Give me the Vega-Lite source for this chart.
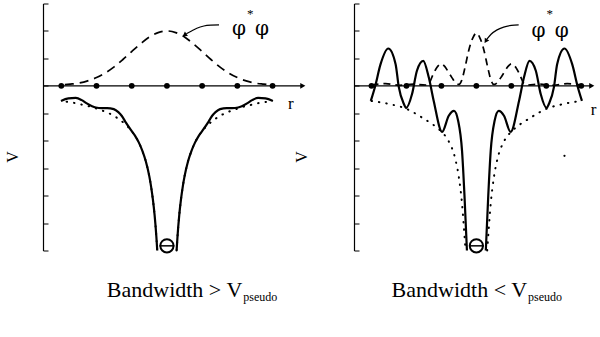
{
  "$schema": "https://vega.github.io/schema/vega-lite/v6.json",
  "background": "white",
  "padding": {"left": 5, "top": 2.5, "right": 0, "bottom": 5},
  "bounds": "flush",
  "spacing": 48,
  "config": {"view": {"stroke": null}},
  "datasets": {
    "curves": [
      {"p":"L","s":"solid","b":"a","x":-3.01,"y":-0.55},{"p":"L","s":"solid","b":"a","x":-2.8,"y":-0.46},{"p":"L","s":"solid","b":"a","x":-2.59,"y":-0.44},{"p":"L","s":"solid","b":"a","x":-2.42,"y":-0.52},{"p":"L","s":"solid","b":"a","x":-2.3,"y":-0.62},{"p":"L","s":"solid","b":"a","x":-2.02,"y":-0.79},{"p":"L","s":"solid","b":"a","x":-1.85,"y":-0.81},{"p":"L","s":"solid","b":"a","x":-1.7,"y":-0.81},{"p":"L","s":"solid","b":"a","x":-1.51,"y":-0.85},{"p":"L","s":"solid","b":"a","x":-1.38,"y":-0.96},{"p":"L","s":"solid","b":"a","x":-1.28,"y":-1.1},{"p":"L","s":"solid","b":"a","x":-1.16,"y":-1.35},{"p":"L","s":"solid","b":"a","x":-1.0,"y":-1.65},{"p":"L","s":"solid","b":"a","x":-0.9,"y":-1.83},{"p":"L","s":"solid","b":"a","x":-0.8,"y":-2.06},{"p":"L","s":"solid","b":"a","x":-0.7,"y":-2.36},{"p":"L","s":"solid","b":"a","x":-0.6,"y":-2.75},{"p":"L","s":"solid","b":"a","x":-0.5,"y":-3.3},{"p":"L","s":"solid","b":"a","x":-0.45,"y":-3.67},{"p":"L","s":"solid","b":"a","x":-0.4,"y":-4.13},{"p":"L","s":"solid","b":"a","x":-0.35,"y":-4.71},{"p":"L","s":"solid","b":"a","x":-0.3,"y":-5.5},{"p":"L","s":"solid","b":"a","x":-0.275,"y":-6.0},
      {"p":"L","s":"solid","b":"b","x":3.01,"y":-0.55},{"p":"L","s":"solid","b":"b","x":2.8,"y":-0.46},{"p":"L","s":"solid","b":"b","x":2.59,"y":-0.44},{"p":"L","s":"solid","b":"b","x":2.42,"y":-0.52},{"p":"L","s":"solid","b":"b","x":2.3,"y":-0.62},{"p":"L","s":"solid","b":"b","x":2.02,"y":-0.79},{"p":"L","s":"solid","b":"b","x":1.85,"y":-0.81},{"p":"L","s":"solid","b":"b","x":1.7,"y":-0.81},{"p":"L","s":"solid","b":"b","x":1.51,"y":-0.85},{"p":"L","s":"solid","b":"b","x":1.38,"y":-0.96},{"p":"L","s":"solid","b":"b","x":1.28,"y":-1.1},{"p":"L","s":"solid","b":"b","x":1.16,"y":-1.35},{"p":"L","s":"solid","b":"b","x":1.0,"y":-1.65},{"p":"L","s":"solid","b":"b","x":0.9,"y":-1.83},{"p":"L","s":"solid","b":"b","x":0.8,"y":-2.06},{"p":"L","s":"solid","b":"b","x":0.7,"y":-2.36},{"p":"L","s":"solid","b":"b","x":0.6,"y":-2.75},{"p":"L","s":"solid","b":"b","x":0.5,"y":-3.3},{"p":"L","s":"solid","b":"b","x":0.45,"y":-3.67},{"p":"L","s":"solid","b":"b","x":0.4,"y":-4.13},{"p":"L","s":"solid","b":"b","x":0.35,"y":-4.71},{"p":"L","s":"solid","b":"b","x":0.3,"y":-5.5},{"p":"L","s":"solid","b":"b","x":0.275,"y":-6.0},
      {"p":"L","s":"dotted","b":"a","x":-2.85,"y":-0.58},{"p":"L","s":"dotted","b":"a","x":-2.6,"y":-0.63},{"p":"L","s":"dotted","b":"a","x":-2.4,"y":-0.69},{"p":"L","s":"dotted","b":"a","x":-2.2,"y":-0.75},{"p":"L","s":"dotted","b":"a","x":-2.0,"y":-0.83},{"p":"L","s":"dotted","b":"a","x":-1.8,"y":-0.92},{"p":"L","s":"dotted","b":"a","x":-1.6,"y":-1.03},{"p":"L","s":"dotted","b":"a","x":-1.4,"y":-1.18},{"p":"L","s":"dotted","b":"a","x":-1.2,"y":-1.38},{"p":"L","s":"dotted","b":"a","x":-1.0,"y":-1.65},{"p":"L","s":"dotted","b":"a","x":-0.9,"y":-1.83},{"p":"L","s":"dotted","b":"a","x":-0.8,"y":-2.06},{"p":"L","s":"dotted","b":"a","x":-0.7,"y":-2.36},{"p":"L","s":"dotted","b":"a","x":-0.6,"y":-2.75},{"p":"L","s":"dotted","b":"a","x":-0.5,"y":-3.3},{"p":"L","s":"dotted","b":"a","x":-0.45,"y":-3.67},{"p":"L","s":"dotted","b":"a","x":-0.4,"y":-4.13},{"p":"L","s":"dotted","b":"a","x":-0.35,"y":-4.71},{"p":"L","s":"dotted","b":"a","x":-0.3,"y":-5.5},{"p":"L","s":"dotted","b":"a","x":-0.275,"y":-6.0},
      {"p":"L","s":"dotted","b":"b","x":2.85,"y":-0.58},{"p":"L","s":"dotted","b":"b","x":2.6,"y":-0.63},{"p":"L","s":"dotted","b":"b","x":2.4,"y":-0.69},{"p":"L","s":"dotted","b":"b","x":2.2,"y":-0.75},{"p":"L","s":"dotted","b":"b","x":2.0,"y":-0.83},{"p":"L","s":"dotted","b":"b","x":1.8,"y":-0.92},{"p":"L","s":"dotted","b":"b","x":1.6,"y":-1.03},{"p":"L","s":"dotted","b":"b","x":1.4,"y":-1.18},{"p":"L","s":"dotted","b":"b","x":1.2,"y":-1.38},{"p":"L","s":"dotted","b":"b","x":1.0,"y":-1.65},{"p":"L","s":"dotted","b":"b","x":0.9,"y":-1.83},{"p":"L","s":"dotted","b":"b","x":0.8,"y":-2.06},{"p":"L","s":"dotted","b":"b","x":0.7,"y":-2.36},{"p":"L","s":"dotted","b":"b","x":0.6,"y":-2.75},{"p":"L","s":"dotted","b":"b","x":0.5,"y":-3.3},{"p":"L","s":"dotted","b":"b","x":0.45,"y":-3.67},{"p":"L","s":"dotted","b":"b","x":0.4,"y":-4.13},{"p":"L","s":"dotted","b":"b","x":0.35,"y":-4.71},{"p":"L","s":"dotted","b":"b","x":0.3,"y":-5.5},{"p":"L","s":"dotted","b":"b","x":0.275,"y":-6.0},
      {"p":"L","s":"dashed","b":"a","x":-2.9,"y":0.04},{"p":"L","s":"dashed","b":"a","x":-2.75,"y":0.06},{"p":"L","s":"dashed","b":"a","x":-2.5,"y":0.1},{"p":"L","s":"dashed","b":"a","x":-2.25,"y":0.18},{"p":"L","s":"dashed","b":"a","x":-2.0,"y":0.3},{"p":"L","s":"dashed","b":"a","x":-1.75,"y":0.47},{"p":"L","s":"dashed","b":"a","x":-1.5,"y":0.69},{"p":"L","s":"dashed","b":"a","x":-1.25,"y":0.96},{"p":"L","s":"dashed","b":"a","x":-1.0,"y":1.25},{"p":"L","s":"dashed","b":"a","x":-0.75,"y":1.53},{"p":"L","s":"dashed","b":"a","x":-0.5,"y":1.78},{"p":"L","s":"dashed","b":"a","x":-0.25,"y":1.94},{"p":"L","s":"dashed","b":"a","x":0,"y":2.0},{"p":"L","s":"dashed","b":"a","x":0.25,"y":1.94},{"p":"L","s":"dashed","b":"a","x":0.5,"y":1.78},{"p":"L","s":"dashed","b":"a","x":0.75,"y":1.53},{"p":"L","s":"dashed","b":"a","x":1.0,"y":1.25},{"p":"L","s":"dashed","b":"a","x":1.25,"y":0.96},{"p":"L","s":"dashed","b":"a","x":1.5,"y":0.69},{"p":"L","s":"dashed","b":"a","x":1.75,"y":0.47},{"p":"L","s":"dashed","b":"a","x":2.0,"y":0.3},{"p":"L","s":"dashed","b":"a","x":2.25,"y":0.18},{"p":"L","s":"dashed","b":"a","x":2.5,"y":0.1},{"p":"L","s":"dashed","b":"a","x":2.75,"y":0.06},{"p":"L","s":"dashed","b":"a","x":2.9,"y":0.04},
      {"p":"L","s":"pointer","b":"a","x":0.55,"y":1.9},{"p":"L","s":"pointer","b":"a","x":0.7,"y":2.0},{"p":"L","s":"pointer","b":"a","x":0.85,"y":2.1},{"p":"L","s":"pointer","b":"a","x":1.05,"y":2.18},{"p":"L","s":"pointer","b":"a","x":1.25,"y":2.21},{"p":"L","s":"pointer","b":"a","x":1.48,"y":2.22},
      {"p":"R","s":"solid","b":"a","x":-3.02,"y":-0.55},{"p":"R","s":"solid","b":"a","x":-2.9,"y":-0.04},{"p":"R","s":"solid","b":"a","x":-2.74,"y":0.79},{"p":"R","s":"solid","b":"a","x":-2.52,"y":1.36},{"p":"R","s":"solid","b":"a","x":-2.31,"y":0.79},{"p":"R","s":"solid","b":"a","x":-2.22,"y":-0.04},{"p":"R","s":"solid","b":"a","x":-2.07,"y":-0.67},{"p":"R","s":"solid","b":"a","x":-2.01,"y":-0.81},{"p":"R","s":"solid","b":"a","x":-1.84,"y":-0.3},{"p":"R","s":"solid","b":"a","x":-1.7,"y":0.55},{"p":"R","s":"solid","b":"a","x":-1.52,"y":0.91},{"p":"R","s":"solid","b":"a","x":-1.36,"y":0.3},{"p":"R","s":"solid","b":"a","x":-1.22,"y":-0.55},{"p":"R","s":"solid","b":"a","x":-0.98,"y":-1.68},{"p":"R","s":"solid","b":"a","x":-0.79,"y":-1.09},{"p":"R","s":"solid","b":"a","x":-0.64,"y":-0.91},{"p":"R","s":"solid","b":"a","x":-0.52,"y":-1.28},{"p":"R","s":"solid","b":"a","x":-0.41,"y":-2.37},{"p":"R","s":"solid","b":"a","x":-0.34,"y":-4.0},{"p":"R","s":"solid","b":"a","x":-0.27,"y":-6.0},
      {"p":"R","s":"solid","b":"b","x":3.02,"y":-0.55},{"p":"R","s":"solid","b":"b","x":2.9,"y":-0.04},{"p":"R","s":"solid","b":"b","x":2.74,"y":0.79},{"p":"R","s":"solid","b":"b","x":2.52,"y":1.36},{"p":"R","s":"solid","b":"b","x":2.31,"y":0.79},{"p":"R","s":"solid","b":"b","x":2.22,"y":-0.04},{"p":"R","s":"solid","b":"b","x":2.07,"y":-0.67},{"p":"R","s":"solid","b":"b","x":2.01,"y":-0.81},{"p":"R","s":"solid","b":"b","x":1.84,"y":-0.3},{"p":"R","s":"solid","b":"b","x":1.7,"y":0.55},{"p":"R","s":"solid","b":"b","x":1.52,"y":0.91},{"p":"R","s":"solid","b":"b","x":1.36,"y":0.3},{"p":"R","s":"solid","b":"b","x":1.22,"y":-0.55},{"p":"R","s":"solid","b":"b","x":0.98,"y":-1.68},{"p":"R","s":"solid","b":"b","x":0.79,"y":-1.09},{"p":"R","s":"solid","b":"b","x":0.64,"y":-0.91},{"p":"R","s":"solid","b":"b","x":0.52,"y":-1.28},{"p":"R","s":"solid","b":"b","x":0.41,"y":-2.37},{"p":"R","s":"solid","b":"b","x":0.34,"y":-4.0},{"p":"R","s":"solid","b":"b","x":0.27,"y":-6.0},
      {"p":"R","s":"dotted","b":"a","x":-3.0,"y":-0.55},{"p":"R","s":"dotted","b":"a","x":-2.5,"y":-0.66},{"p":"R","s":"dotted","b":"a","x":-2.0,"y":-0.84},{"p":"R","s":"dotted","b":"a","x":-1.5,"y":-1.2},{"p":"R","s":"dotted","b":"a","x":-1.2,"y":-1.45},{"p":"R","s":"dotted","b":"a","x":-1.0,"y":-1.67},{"p":"R","s":"dotted","b":"a","x":-0.8,"y":-2.0},{"p":"R","s":"dotted","b":"a","x":-0.6,"y":-2.68},{"p":"R","s":"dotted","b":"a","x":-0.5,"y":-3.34},{"p":"R","s":"dotted","b":"a","x":-0.41,"y":-4.3},{"p":"R","s":"dotted","b":"a","x":-0.36,"y":-5.1},{"p":"R","s":"dotted","b":"a","x":-0.31,"y":-6.0},
      {"p":"R","s":"dotted","b":"b","x":3.0,"y":-0.55},{"p":"R","s":"dotted","b":"b","x":2.5,"y":-0.66},{"p":"R","s":"dotted","b":"b","x":2.0,"y":-0.84},{"p":"R","s":"dotted","b":"b","x":1.5,"y":-1.2},{"p":"R","s":"dotted","b":"b","x":1.2,"y":-1.45},{"p":"R","s":"dotted","b":"b","x":1.0,"y":-1.67},{"p":"R","s":"dotted","b":"b","x":0.8,"y":-2.0},{"p":"R","s":"dotted","b":"b","x":0.6,"y":-2.68},{"p":"R","s":"dotted","b":"b","x":0.5,"y":-3.34},{"p":"R","s":"dotted","b":"b","x":0.41,"y":-4.3},{"p":"R","s":"dotted","b":"b","x":0.36,"y":-5.1},{"p":"R","s":"dotted","b":"b","x":0.31,"y":-6.0},
      {"p":"R","s":"dashed","b":"a","x":-3.0,"y":0.03},{"p":"R","s":"dashed","b":"a","x":-2.6,"y":0.08},{"p":"R","s":"dashed","b":"a","x":-2.2,"y":0.02},{"p":"R","s":"dashed","b":"a","x":-1.8,"y":0.06},{"p":"R","s":"dashed","b":"a","x":-1.45,"y":0.03},{"p":"R","s":"dashed","b":"a","x":-1.35,"y":0.1},{"p":"R","s":"dashed","b":"a","x":-1.25,"y":0.38},{"p":"R","s":"dashed","b":"a","x":-1.13,"y":0.67},{"p":"R","s":"dashed","b":"a","x":-1.0,"y":0.8},{"p":"R","s":"dashed","b":"a","x":-0.9,"y":0.7},{"p":"R","s":"dashed","b":"a","x":-0.8,"y":0.5},{"p":"R","s":"dashed","b":"a","x":-0.7,"y":0.3},{"p":"R","s":"dashed","b":"a","x":-0.6,"y":0.12},{"p":"R","s":"dashed","b":"a","x":-0.5,"y":0.05},{"p":"R","s":"dashed","b":"a","x":-0.42,"y":0.2},{"p":"R","s":"dashed","b":"a","x":-0.32,"y":0.7},{"p":"R","s":"dashed","b":"a","x":-0.22,"y":1.28},{"p":"R","s":"dashed","b":"a","x":-0.1,"y":1.75},{"p":"R","s":"dashed","b":"a","x":0,"y":1.92},{"p":"R","s":"dashed","b":"a","x":0.1,"y":1.75},{"p":"R","s":"dashed","b":"a","x":0.22,"y":1.28},{"p":"R","s":"dashed","b":"a","x":0.32,"y":0.7},{"p":"R","s":"dashed","b":"a","x":0.42,"y":0.2},{"p":"R","s":"dashed","b":"a","x":0.5,"y":0.05},{"p":"R","s":"dashed","b":"a","x":0.6,"y":0.12},{"p":"R","s":"dashed","b":"a","x":0.7,"y":0.3},{"p":"R","s":"dashed","b":"a","x":0.8,"y":0.5},{"p":"R","s":"dashed","b":"a","x":0.9,"y":0.7},{"p":"R","s":"dashed","b":"a","x":1.0,"y":0.8},{"p":"R","s":"dashed","b":"a","x":1.13,"y":0.67},{"p":"R","s":"dashed","b":"a","x":1.25,"y":0.38},{"p":"R","s":"dashed","b":"a","x":1.35,"y":0.1},{"p":"R","s":"dashed","b":"a","x":1.45,"y":0.03},{"p":"R","s":"dashed","b":"a","x":1.8,"y":0.06},{"p":"R","s":"dashed","b":"a","x":2.2,"y":0.02},{"p":"R","s":"dashed","b":"a","x":2.6,"y":0.08},{"p":"R","s":"dashed","b":"a","x":3.0,"y":0.03},
      {"p":"R","s":"pointer","b":"a","x":0.3,"y":1.7},{"p":"R","s":"pointer","b":"a","x":0.42,"y":1.88},{"p":"R","s":"pointer","b":"a","x":0.58,"y":2.03},{"p":"R","s":"pointer","b":"a","x":0.78,"y":2.14},{"p":"R","s":"pointer","b":"a","x":1.0,"y":2.2},{"p":"R","s":"pointer","b":"a","x":1.21,"y":2.22}
    ],
    "axisline": [
      {"p":"L","x":-3.52,"x2":3.84,"y":0},
      {"p":"R","x":-3.5,"x2":3.28,"y":0}
    ],
    "arrowtips": [
      {"p":"L","x":3.86,"y":0},
      {"p":"R","x":3.3,"y":0}
    ],
    "pointertips": [
      {"p":"L","x":0.5,"y":1.85},
      {"p":"R","x":0.27,"y":1.63}
    ],
    "dots": [
      {"x":-3,"y":0},{"x":-2,"y":0},{"x":-1,"y":0},{"x":0,"y":0},{"x":1,"y":0},{"x":2,"y":0},{"x":3,"y":0}
    ],
    "nucleus": [
      {"x":0,"y":-5.83,"xa":-0.21,"xb":0.21}
    ],
    "labels": [
      {"p":"L","role":"phi","x":2.05,"y":2.07,"t":"φ"},
      {"p":"L","role":"phi","x":2.7,"y":2.07,"t":"φ"},
      {"p":"L","role":"star","x":2.37,"y":2.6,"t":"*"},
      {"p":"L","role":"r","x":3.52,"y":-0.66,"t":"r"},
      {"p":"L","role":"v","x":-4.23,"y":-2.59,"t":"V"},
      {"p":"L","role":"cap","x":2.14,"y":-7.69,"t":"Bandwidth > V"},
      {"p":"L","role":"sub","x":2.17,"y":-7.85,"t":"pseudo"},
      {"p":"R","role":"phi","x":1.78,"y":2.0,"t":"φ"},
      {"p":"R","role":"phi","x":2.44,"y":2.0,"t":"φ"},
      {"p":"R","role":"star","x":2.1,"y":2.6,"t":"*"},
      {"p":"R","role":"r","x":3.35,"y":-0.87,"t":"r"},
      {"p":"R","role":"v","x":-4.85,"y":-2.59,"t":"V"},
      {"p":"R","role":"cap","x":1.45,"y":-7.69,"t":"Bandwidth < V"},
      {"p":"R","role":"sub","x":1.48,"y":-7.85,"t":"pseudo"},
      {"p":"R","role":"speck","x":2.52,"y":-2.55,"t":""}
    ]
  },
  "hconcat": [
    {
      "width": 263,
      "height": 247,
      "encoding": {
        "x": {"field": "x", "type": "quantitative", "scale": {"domain": [-3.52, 3.95], "nice": false, "zero": false}, "axis": null},
        "y": {"field": "y", "type": "quantitative", "scale": {"domain": [-6, 3], "nice": false, "zero": false},
              "axis": {"title": null, "labels": false, "ticks": true, "tickSize": -5, "tickColor": "black", "tickWidth": 1, "domainColor": "black", "domainWidth": 1.2, "grid": false, "values": [-6, -5, -4, -3, -2, -1, 0, 1, 2, 3]}}
      },
      "layer": [
        {"data": {"name": "axisline"}, "transform": [{"filter": "datum.p == 'L'"}], "mark": {"type": "rule", "color": "black", "strokeWidth": 1.3}, "encoding": {"x2": {"field": "x2"}}},
        {"data": {"name": "arrowtips"}, "transform": [{"filter": "datum.p == 'L'"}], "mark": {"type": "point", "shape": "triangle-right", "filled": true, "color": "black", "size": 35, "opacity": 1}},
        {"data": {"name": "curves"}, "transform": [{"filter": "datum.p == 'L' && datum.s == 'dashed'"}], "mark": {"type": "line", "color": "black", "strokeWidth": 1.7, "strokeDash": [9, 6], "interpolate": "monotone"}, "encoding": {"detail": {"field": "b"}}},
        {"data": {"name": "curves"}, "transform": [{"filter": "datum.p == 'L' && datum.s == 'dotted'"}], "mark": {"type": "line", "color": "black", "strokeWidth": 2, "strokeDash": [0.5, 7], "strokeCap": "round", "interpolate": "monotone"}, "encoding": {"detail": {"field": "b"}}},
        {"data": {"name": "curves"}, "transform": [{"filter": "datum.p == 'L' && datum.s == 'solid'"}], "mark": {"type": "line", "color": "black", "strokeWidth": 2.2, "interpolate": "monotone"}, "encoding": {"detail": {"field": "b"}}},
        {"data": {"name": "curves"}, "transform": [{"filter": "datum.p == 'L' && datum.s == 'pointer'"}], "mark": {"type": "line", "color": "black", "strokeWidth": 1.2, "interpolate": "monotone"}},
        {"data": {"name": "pointertips"}, "transform": [{"filter": "datum.p == 'L'"}], "mark": {"type": "point", "shape": "triangle-right", "filled": true, "color": "black", "size": 28, "angle": 146, "opacity": 1}},
        {"data": {"name": "dots"}, "mark": {"type": "point", "shape": "circle", "filled": true, "color": "black", "size": 34, "opacity": 1}},
        {"data": {"name": "nucleus"}, "mark": {"type": "point", "shape": "circle", "filled": false, "stroke": "black", "strokeWidth": 2, "size": 175, "opacity": 1}},
        {"data": {"name": "nucleus"}, "mark": {"type": "rule", "color": "black", "strokeWidth": 1.5}, "encoding": {"x": {"field": "xa", "type": "quantitative"}, "x2": {"field": "xb"}}},
        {"data": {"name": "labels"}, "transform": [{"filter": "datum.p == 'L' && datum.role == 'phi'"}], "mark": {"type": "text", "font": "DejaVu Serif", "fontSize": 20, "color": "black", "align": "center", "baseline": "middle"}, "encoding": {"text": {"field": "t"}}},
        {"data": {"name": "labels"}, "transform": [{"filter": "datum.p == 'L' && datum.role == 'star'"}], "mark": {"type": "text", "font": "Liberation Serif", "fontSize": 13, "color": "black", "align": "center", "baseline": "middle"}, "encoding": {"text": {"field": "t"}}},
        {"data": {"name": "labels"}, "transform": [{"filter": "datum.p == 'L' && datum.role == 'r'"}], "mark": {"type": "text", "font": "Liberation Serif", "fontSize": 17, "color": "black", "align": "center", "baseline": "middle"}, "encoding": {"text": {"field": "t"}}},
        {"data": {"name": "labels"}, "transform": [{"filter": "datum.p == 'L' && datum.role == 'v'"}], "mark": {"type": "text", "font": "Liberation Serif", "fontSize": 16, "color": "black", "align": "center", "baseline": "alphabetic", "angle": 270}, "encoding": {"text": {"field": "t"}}},
        {"data": {"name": "labels"}, "transform": [{"filter": "datum.p == 'L' && datum.role == 'cap'"}], "mark": {"type": "text", "font": "Liberation Serif", "fontSize": 22, "color": "black", "align": "right", "baseline": "alphabetic"}, "encoding": {"text": {"field": "t"}}},
        {"data": {"name": "labels"}, "transform": [{"filter": "datum.p == 'L' && datum.role == 'sub'"}], "mark": {"type": "text", "font": "Liberation Serif", "fontSize": 12, "color": "black", "align": "left", "baseline": "alphabetic"}, "encoding": {"text": {"field": "t"}}}
      ]
    },
    {
      "width": 243,
      "height": 247,
      "encoding": {
        "x": {"field": "x", "type": "quantitative", "scale": {"domain": [-3.5, 3.45], "nice": false, "zero": false}, "axis": null},
        "y": {"field": "y", "type": "quantitative", "scale": {"domain": [-6, 3], "nice": false, "zero": false},
              "axis": {"title": null, "labels": false, "ticks": true, "tickSize": -5, "tickColor": "black", "tickWidth": 1, "domainColor": "black", "domainWidth": 1.2, "grid": false, "values": [-6, -5, -4, -3, -2, -1, 0, 1, 2, 3]}}
      },
      "layer": [
        {"data": {"name": "axisline"}, "transform": [{"filter": "datum.p == 'R'"}], "mark": {"type": "rule", "color": "black", "strokeWidth": 1.3}, "encoding": {"x2": {"field": "x2"}}},
        {"data": {"name": "arrowtips"}, "transform": [{"filter": "datum.p == 'R'"}], "mark": {"type": "point", "shape": "triangle-right", "filled": true, "color": "black", "size": 35, "opacity": 1}},
        {"data": {"name": "curves"}, "transform": [{"filter": "datum.p == 'R' && datum.s == 'dashed'"}], "mark": {"type": "line", "color": "black", "strokeWidth": 1.7, "strokeDash": [7, 5], "interpolate": "monotone"}, "encoding": {"detail": {"field": "b"}}},
        {"data": {"name": "curves"}, "transform": [{"filter": "datum.p == 'R' && datum.s == 'dotted'"}], "mark": {"type": "line", "color": "black", "strokeWidth": 2, "strokeDash": [0.5, 7], "strokeCap": "round", "interpolate": "monotone"}, "encoding": {"detail": {"field": "b"}}},
        {"data": {"name": "curves"}, "transform": [{"filter": "datum.p == 'R' && datum.s == 'solid'"}], "mark": {"type": "line", "color": "black", "strokeWidth": 2.2, "interpolate": "monotone"}, "encoding": {"detail": {"field": "b"}}},
        {"data": {"name": "curves"}, "transform": [{"filter": "datum.p == 'R' && datum.s == 'pointer'"}], "mark": {"type": "line", "color": "black", "strokeWidth": 1.2, "interpolate": "monotone"}},
        {"data": {"name": "pointertips"}, "transform": [{"filter": "datum.p == 'R'"}], "mark": {"type": "point", "shape": "triangle-right", "filled": true, "color": "black", "size": 28, "angle": 122, "opacity": 1}},
        {"data": {"name": "dots"}, "mark": {"type": "point", "shape": "circle", "filled": true, "color": "black", "size": 34, "opacity": 1}},
        {"data": {"name": "nucleus"}, "mark": {"type": "point", "shape": "circle", "filled": false, "stroke": "black", "strokeWidth": 2, "size": 175, "opacity": 1}},
        {"data": {"name": "nucleus"}, "mark": {"type": "rule", "color": "black", "strokeWidth": 1.5}, "encoding": {"x": {"field": "xa", "type": "quantitative"}, "x2": {"field": "xb"}}},
        {"data": {"name": "labels"}, "transform": [{"filter": "datum.p == 'R' && datum.role == 'speck'"}], "mark": {"type": "point", "shape": "circle", "filled": true, "color": "black", "size": 5, "opacity": 1}},
        {"data": {"name": "labels"}, "transform": [{"filter": "datum.p == 'R' && datum.role == 'phi'"}], "mark": {"type": "text", "font": "DejaVu Serif", "fontSize": 20, "color": "black", "align": "center", "baseline": "middle"}, "encoding": {"text": {"field": "t"}}},
        {"data": {"name": "labels"}, "transform": [{"filter": "datum.p == 'R' && datum.role == 'star'"}], "mark": {"type": "text", "font": "Liberation Serif", "fontSize": 13, "color": "black", "align": "center", "baseline": "middle"}, "encoding": {"text": {"field": "t"}}},
        {"data": {"name": "labels"}, "transform": [{"filter": "datum.p == 'R' && datum.role == 'r'"}], "mark": {"type": "text", "font": "Liberation Serif", "fontSize": 17, "color": "black", "align": "center", "baseline": "middle"}, "encoding": {"text": {"field": "t"}}},
        {"data": {"name": "labels"}, "transform": [{"filter": "datum.p == 'R' && datum.role == 'v'"}], "mark": {"type": "text", "font": "Liberation Serif", "fontSize": 16, "color": "black", "align": "center", "baseline": "alphabetic", "angle": 270}, "encoding": {"text": {"field": "t"}}},
        {"data": {"name": "labels"}, "transform": [{"filter": "datum.p == 'R' && datum.role == 'cap'"}], "mark": {"type": "text", "font": "Liberation Serif", "fontSize": 22, "color": "black", "align": "right", "baseline": "alphabetic"}, "encoding": {"text": {"field": "t"}}},
        {"data": {"name": "labels"}, "transform": [{"filter": "datum.p == 'R' && datum.role == 'sub'"}], "mark": {"type": "text", "font": "Liberation Serif", "fontSize": 12, "color": "black", "align": "left", "baseline": "alphabetic"}, "encoding": {"text": {"field": "t"}}}
      ]
    }
  ]
}
